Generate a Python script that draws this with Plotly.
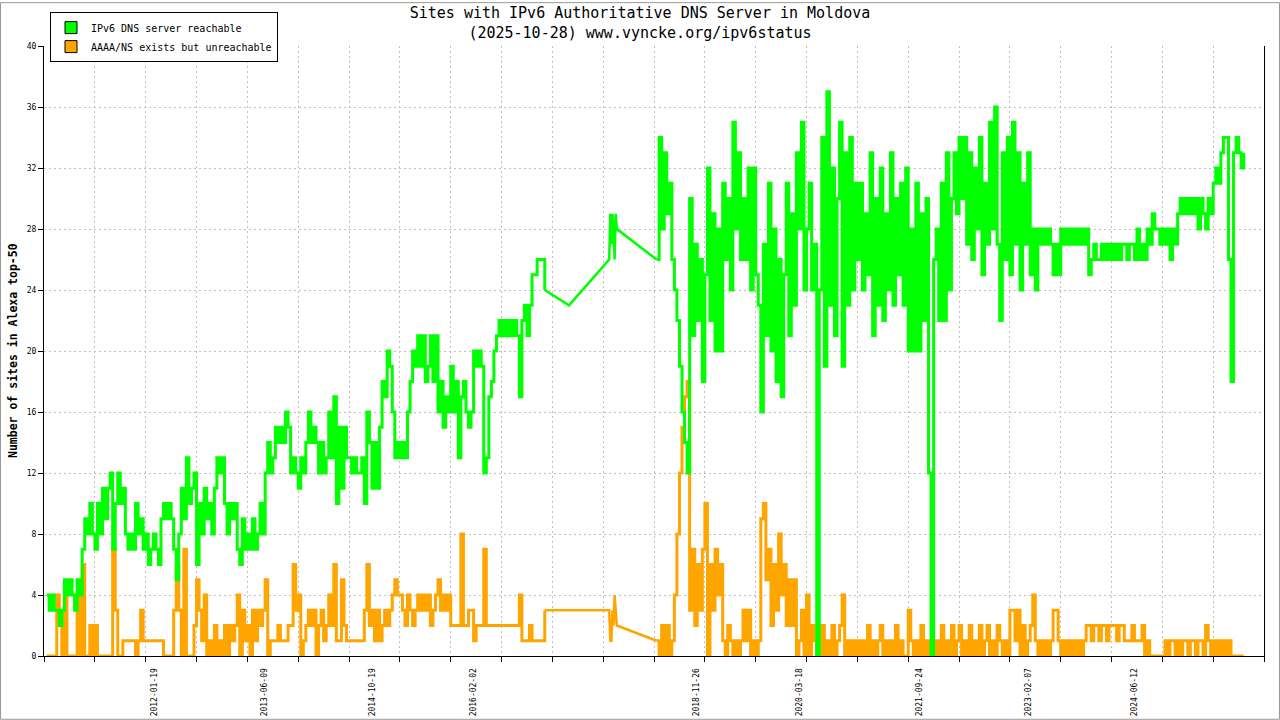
import pandas as pd
import plotly.graph_objects as go

# ---------------- data ----------------
# dense period 1: samples every 282 hours starting 2010-09-06
seg1_start = "2010-09-06"
seg1_green = [
    4, 3, 4, 3, 3, 2, 3, 5, 4, 5, 4, 3, 5, 4, 7, 9, 8, 10, 8, 7,
    10, 8, 11, 9, 11, 12, 7, 10, 12, 10, 11, 8, 7, 8, 7, 10, 8, 9, 7, 8,
    6, 7, 8, 7, 6, 9, 10, 9, 10, 9, 7, 5, 8, 11, 9, 13, 10, 11, 12, 6,
    10, 8, 11, 9, 10, 8, 11, 13, 12, 13, 10, 8, 10, 9, 10, 7, 6, 9, 7, 8,
    7, 9, 7, 8, 10, 8, 12, 14, 12, 13, 15, 14, 15, 14, 16, 15, 12, 13, 12, 11,
    13, 12, 14, 16, 14, 15, 14, 12, 14, 12, 13, 16, 13, 17, 10, 15, 11, 15, 13, 13,
    12, 13, 12, 12, 13, 10, 16, 14, 11, 14, 11, 15, 18, 17, 20, 19, 16, 13, 14, 13,
    14, 13, 16, 18, 20, 19, 21, 19, 21, 18, 19, 21, 18, 21, 16, 18, 15, 17, 16, 19,
    16, 18, 13, 17, 18, 16, 15, 16, 20, 19, 20, 19, 12, 13, 17, 18, 20, 21, 22, 21,
    22, 21, 22, 21, 22, 21, 17, 22, 23, 21, 23, 25, 25, 26, 26, 26, 24,
]
seg1_orange = [
    0, 0, 0, 0, 4, 3, 0, 4, 0, 0, 0, 0, 4, 0, 6, 0, 0, 2, 0, 2,
    0, 0, 0, 0, 0, 0, 7, 3, 0, 0, 1, 1, 1, 1, 1, 0, 1, 3, 1, 1,
    1, 1, 1, 1, 1, 1, 0, 0, 0, 0, 3, 6, 3, 0, 7, 0, 0, 0, 2, 5,
    3, 1, 4, 0, 1, 0, 2, 0, 1, 0, 2, 0, 2, 1, 2, 4, 0, 3, 1, 2,
    0, 3, 1, 3, 2, 3, 5, 0, 1, 1, 1, 2, 1, 1, 1, 2, 2, 6, 3, 4,
    0, 1, 2, 3, 2, 3, 0, 2, 3, 1, 2, 4, 2, 6, 1, 1, 5, 2, 1, 1,
    1, 1, 1, 1, 1, 3, 6, 2, 3, 1, 3, 1, 2, 3, 2, 3, 4, 5, 4, 4,
    3, 2, 4, 3, 2, 3, 4, 3, 4, 3, 4, 2, 3, 4, 5, 3, 4, 3, 4, 2,
    2, 2, 2, 8, 2, 2, 3, 3, 1, 2, 2, 2, 7, 2, 2, 2, 2, 2, 2, 2,
    2, 2, 2, 2, 2, 2, 4, 1, 1, 1, 2, 1, 1, 1, 1, 1, 3,
]

# sparse period 2017
mid_dates = ["2017-04-17", "2017-10-20", "2017-10-25", "2017-10-30", "2017-11-04",
             "2017-11-09", "2017-11-14", "2017-11-19", "2017-11-24"]
mid_green = [23, 26, 29, 27, 29, 28, 26, 29, 28]
mid_orange = [3, 3, 1, 1, 3, 2, 4, 3, 2]

# dense period 2: samples every 282 hours starting 2018-05-27
seg2_start = "2018-05-27"
seg2_green = [
    26, 34, 28, 33, 29, 31, 26, 24, 22, 19, 16, 14, 12, 30, 21, 27, 22, 26, 18, 25,
    32, 22, 29, 20, 28, 20, 31, 26, 30, 24, 35, 28, 33, 26, 30, 26, 32, 24, 32, 25,
    23, 16, 27, 21, 31, 20, 28, 18, 26, 17, 25, 31, 21, 29, 23, 33, 28, 35, 24, 28,
    31, 24, 27, 0, 24, 34, 19, 37, 23, 32, 21, 30, 35, 19, 33, 23, 34, 24, 31, 26,
    31, 24, 29, 25, 33, 21, 30, 23, 32, 22, 29, 24, 33, 23, 30, 25, 31, 23, 32, 20,
    28, 20, 31, 20, 29, 22, 30, 12, 0, 26, 28, 22, 31, 22, 33, 24, 30, 33, 29, 34,
    30, 34, 27, 33, 26, 32, 28, 34, 25, 31, 27, 35, 28, 36, 27, 22, 33, 26, 34, 25,
    35, 27, 33, 24, 31, 27, 33, 25, 28, 24, 28, 27, 28, 27, 28, 27, 25, 27, 25, 28,
    27, 28, 27, 28, 27, 28, 27, 28, 27, 28, 25, 26, 27, 26, 26, 27, 26, 27, 26, 27,
    26, 27, 26, 27, 27, 26, 27, 27, 26, 28, 26, 27, 26, 28, 27, 29, 28, 28, 27, 28,
    27, 28, 26, 28, 27, 29, 30, 29, 30, 29, 30, 29, 30, 28, 30, 29, 28, 30, 29, 31,
    32, 31, 33, 34, 34, 26, 18, 33, 34, 33, 32, 33,
]
seg2_orange = [
    1, 0, 2, 0, 2, 0, 1, 4, 8, 12, 15, 17, 18, 3, 7, 2, 6, 3, 7, 10,
    0, 6, 3, 7, 4, 6, 1, 0, 2, 1, 0, 1, 0, 1, 3, 1, 3, 0, 1, 0,
    1, 9, 10, 5, 7, 2, 6, 3, 8, 4, 6, 2, 5, 2, 5, 0, 1, 3, 0, 4,
    0, 2, 1, 0, 0, 2, 0, 1, 0, 2, 0, 1, 2, 4, 0, 1, 0, 1, 0, 1,
    0, 1, 0, 2, 0, 1, 0, 1, 2, 0, 1, 0, 1, 0, 2, 0, 1, 0, 0, 3,
    1, 0, 1, 0, 2, 0, 1, 0, 0, 0, 1, 0, 2, 0, 1, 0, 2, 0, 1, 2,
    0, 1, 0, 2, 0, 1, 0, 2, 0, 1, 2, 0, 1, 0, 2, 1, 0, 1, 0, 3,
    3, 1, 3, 0, 2, 0, 1, 2, 4, 1, 0, 1, 0, 1, 0, 1, 3, 3, 1, 0,
    1, 0, 1, 0, 1, 0, 1, 0, 1, 2, 2, 1, 2, 2, 1, 2, 2, 1, 2, 2,
    2, 1, 2, 2, 1, 1, 1, 2, 1, 1, 1, 2, 0, 1, 0, 0, 0, 0, 0, 0,
    1, 0, 1, 1, 0, 1, 0, 1, 1, 0, 1, 1, 0, 1, 1, 0, 2, 1, 0, 1,
    0, 1, 0, 1, 0, 1, 0, 0, 0, 0, 0, 0,
]

label_dates = ["2012-01-19", "2013-06-09", "2014-10-19", "2016-02-02", "2018-11-26",
               "2020-03-18", "2021-09-24", "2023-02-07", "2024-06-12"]
x_range = ["2010-08-25", "2026-02-02"]
grid_start = "2010-08-25"
grid_step_days = 235

series_names = ["IPv6 DNS server reachable", "AAAA/NS exists but unreachable"]
GREEN = "#00ff00"
ORANGE = "#ffa500"

# ---------------- build ----------------
d1 = list(pd.date_range(seg1_start, periods=len(seg1_green), freq="282h"))
d2 = list(pd.date_range(seg2_start, periods=len(seg2_green), freq="282h"))
dm = list(pd.to_datetime(mid_dates))

# connector (sparse 2017 period) drawn with straight segments
conn_x = [d1[-1]] + dm + [d2[0]]
conn_green = [seg1_green[-1]] + mid_green + [seg2_green[0]]
conn_orange = [seg1_orange[-1]] + mid_orange + [seg2_orange[0]]

MONO = "DejaVu Sans Mono"

fig = go.Figure()


def add_series(yseg1, yconn, yseg2, color):
    for xs, ys, shape, w in ((d1, yseg1, "hv", 3), (conn_x, yconn, "linear", 2.5), (d2, yseg2, "hv", 3)):
        fig.add_trace(go.Scatter(x=xs, y=ys, mode="lines", line=dict(color=color, width=w, shape=shape),
                                 showlegend=False, hoverinfo="skip"))


add_series(seg1_orange, conn_orange, seg2_orange, ORANGE)
add_series(seg1_green, conn_green, seg2_green, GREEN)

# legend swatches
fig.add_trace(go.Bar(x=[None], y=[None], name=series_names[0],
                     marker=dict(color=GREEN, line=dict(color="black", width=1))))
fig.add_trace(go.Bar(x=[None], y=[None], name=series_names[1],
                     marker=dict(color=ORANGE, line=dict(color="black", width=1))))

L, R, T, B = 44, 16, 44, 64
W, H = 1280, 720
pw, ph = W - L - R, H - T - B

fig.update_layout(
    width=W, height=H,
    margin=dict(l=L, r=R, t=T, b=B, pad=0),
    paper_bgcolor="white", plot_bgcolor="white",
    font=dict(family=MONO, color="black"),
    title=dict(text="Sites with IPv6 Authoritative DNS Server in Moldova<br>(2025-10-28) www.vyncke.org/ipv6status",
               x=0.5, xref="container", xanchor="center", y=0.975, yref="container", yanchor="top",
               font=dict(family=MONO, size=15, color="black")),
    legend=dict(x=(50 - L) / pw, y=1 + (T - 10) / ph, xanchor="left", yanchor="top",
                bgcolor="white", bordercolor="black", borderwidth=1,
                font=dict(family=MONO, size=10, color="black"), tracegroupgap=0),
    showlegend=True,
    xaxis=dict(type="date", range=x_range, showgrid=False, zeroline=False, automargin=False,
               tickmode="array", tickvals=label_dates, ticktext=label_dates,
               tickangle=-90, ticks="", tickfont=dict(family=MONO, size=8, color="black"),
               showline=True, linecolor="black", linewidth=1, ticklabelstandoff=8,
               minor=dict(tick0=grid_start, dtick=grid_step_days * 86400000, ticks="outside",
                          ticklen=5, tickcolor="black", tickwidth=1, showgrid=True,
                          gridcolor="#c0c0c0", griddash="2px,3px", gridwidth=1)),
    yaxis=dict(range=[0, 40], tickmode="linear", tick0=0, dtick=4, showgrid=True, automargin=False,
               gridcolor="#c0c0c0", griddash="2px,3px", gridwidth=1, zeroline=False,
               showline=True, mirror=True, linecolor="black", linewidth=1,
               ticks="outside", ticklen=5, tickcolor="black",
               tickfont=dict(family=MONO, size=8, color="black")),
    annotations=[dict(text="<b>Number of sites in Alexa top-50</b>", xref="paper", yref="paper",
                      x=(13 - L) / pw, y=0.5, xanchor="center", yanchor="middle",
                      textangle=-90, showarrow=False,
                      font=dict(family=MONO, size=11.5, color="black"))],
    shapes=[dict(type="rect", xref="paper", yref="paper",
                 x0=(0.5 - L) / pw, x1=(W - 0.5 - L) / pw,
                 y0=-(H - 0.5 - (T + ph)) / ph, y1=1 + (T - 0.5) / ph,
                 line=dict(color="#999999", width=1), fillcolor="rgba(0,0,0,0)", layer="above")],
)

fig.write_html("out.html", config={"displayModeBar": False},
               post_script="document.body.style.margin='0';document.body.style.overflow='hidden';")
